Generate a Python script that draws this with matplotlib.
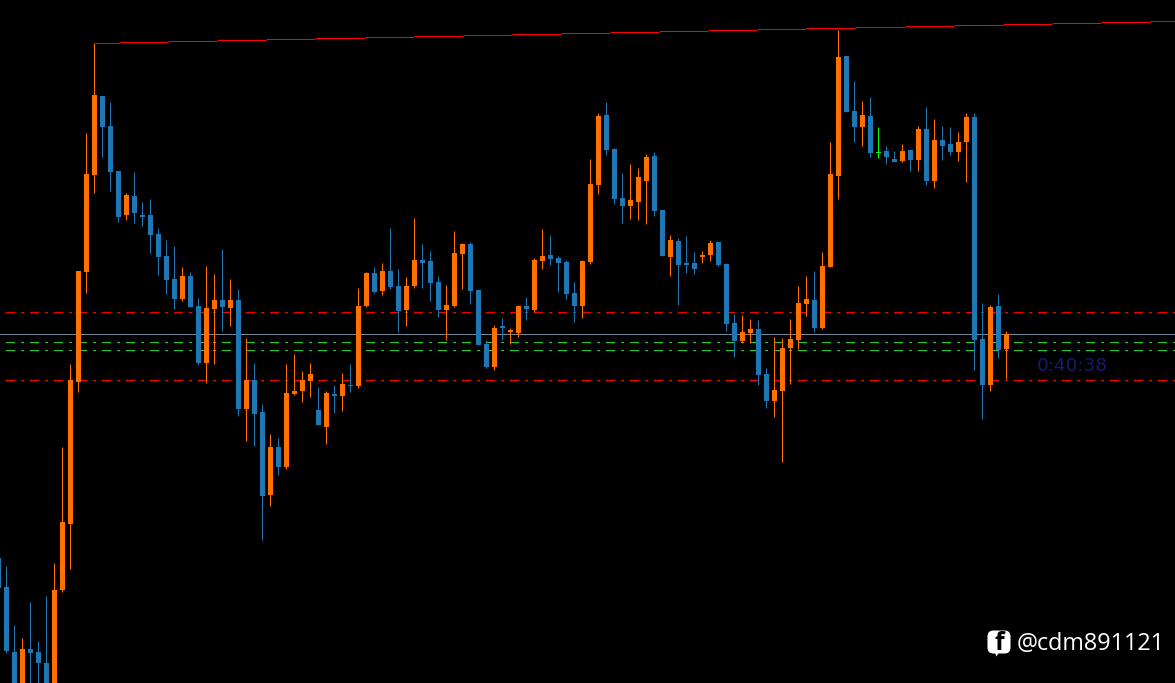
import matplotlib
matplotlib.use("Agg")
import matplotlib.pyplot as plt
import numpy as np
from matplotlib.patches import FancyBboxPatch, Polygon
from matplotlib.transforms import Affine2D

W, H = 1175, 683
first_index = -1
opens = [558,587,652,700,649,652,663,720,590,524,382,272,175,96,126,171,215,196,215,215,234,256,279,299,276,306,363,309,300,308,300,409,380,412,495,447,467,394,391,381,410,427,394,396,385,386,306,273,291,271,286,310,286,260,261,282,310,306,254,244,290,344,367,326,332,333,306,310,261,255,258,262,293,306,262,185,115,149,198,206,202,181,156,210,257,241,263,263,257,255,242,264,323,341,333,329,374,401,391,348,340,304,300,328,267,176,56,111,127,116,152.5,151,159,161,150,160,129,181,140,144,152,142,117,339,385,306,349]
closes = [588,651,700,649,653,663,700,590,522,380,271,174,95,127,172,217,195,213,217,235,257,280,299,276,307,363,308,300,307,300,409,380,414,496,447,467,393,391,380,374,425,393,396,384,386,306,273,292,271,287,311,286,260,263,283,310,305,253,244,291,345,367,328,328,330,306,309,260,256,259,263,294,306,261,184,116,150,199,206,200,177,157,211,256,240,265,265,269,255,243,265,324,341,332,329,375,401,390,348,339,303,299,328,266,174,57,112,127,115,153,152.5,157,162,151,160,129,181,140,146,152,142,117,340,385,307,350,334]
highs = [558,566,625,638,602,641,596,563,447,364,271,133,43,96,102,171,193,172,202,199,228,240,246,267,272,298,266,274,249,279,289,338,363,404,434,438,364,354,371,363,387,391,385,373,364,288,272,267,263,228,269,277,218,244,251,276,285,231,243,242,290,340,325,318,328,305,297,258,229,235,256,260,282,260,159,113,102,148,173,164,168,154,152,210,235,238,236,252,251,240,242,263,314,315,319,320,368,337,338,319,286,276,271,252,142,30,56,81,101,97,127,146,151,144,150,126,107,119,126,127,132,113,113,303,305,294,331]
lows = [590,653,700,700,700,700,700,720,592,569,392,293,193,157,191,222,220,223,226,253,275,294,309,301,307,365,383,364,331,326,416,441,446,540,506,475,469,395,402,397,425,444,413,411,392,388,307,293,295,289,332,326,288,288,301,317,340,307,289,304,345,368,370,340,344,337,320,312,269,265,292,299,322,318,264,194,155,204,223,219,220,224,216,256,276,305,273,274,263,261,266,331,357,343,343,385,408,417,462,384,349,316,332,329,267,199,112,142,146,157,158,164,162,162,171,171,185,188,160,155,161,182,370,419,391,358,379]

upper_red = 312
gray_level = 334
green_levels = [342, 350]
lower_red = 380
trend_index = [11, 146]
trend_values = [43.5, 21.5]
countdown = "0:40:38"
handle = "@cdm891121"

ORANGE, BLUE, GREEN = "#ff7000", "#1f77b4", "#00ff00"
fig = plt.figure(figsize=(W / 100, H / 100), dpi=100, facecolor="black")
ax = fig.add_axes([0, 0, 1, 1], facecolor="black")
ax.set_xlim((0 - 6.5) / 8, (W - 6.5) / 8)
ax.set_ylim(H, 0)
ax.axis("off")

px = 0.72
# dash pattern lengths are given in units of the line width (one pixel here)
dash = (23.5, (9, 6, 3, 6))
line_start = (5 - 6.5) / 8
line_end = (W - 6.5) / 8
for level, col in [(upper_red, "#ff0000"), (lower_red, "#ff0000"),
                   (green_levels[0], "#22d322"), (green_levels[1], "#22d322")]:
    line, = ax.plot([line_start, line_end], [level, level], color=col, lw=px,
                    linestyle=dash, dash_capstyle="butt", zorder=1)
    line.set_snap(True)
line, = ax.plot([ax.get_xlim()[0], line_end], [gray_level] * 2, color="#778899", lw=px, zorder=1)
line.set_snap(True)

# the sloped trend line, drawn stepwise so that it stays one crisp pixel thick
rows = np.arange(int(min(trend_values)), int(max(trend_values)) + 1)
row_start = np.interp(rows + 1, trend_values[::-1], trend_index[::-1])
row_end = np.interp(rows, trend_values[::-1], trend_index[::-1])
steps = ax.hlines(rows, row_start, row_end, color="#ff0000", lw=px, zorder=1)
steps.set_snap(True)

wick_shift = 0.25 / 8
for i, (o, c, h, l) in enumerate(zip(opens, closes, highs, lows)):
    k = first_index + i
    col = GREEN if o == c else (ORANGE if c < o else BLUE)
    wick = ax.vlines(k - wick_shift, h, l, color=col, lw=px, zorder=3)
    wick.set_snap(True)
    top, bottom = min(o, c), max(o, c)
    if bottom == top:
        top, bottom = top - .5, bottom + .5
    ax.bar(k, bottom - top, bottom=top, width=5 / 8, color=col, linewidth=0,
           antialiased=False, zorder=3)

px_tf = Affine2D().scale(1, -1).translate(0, H)
fig.text(1037 / W, 1 - 366 / H, countdown, color="#191970", fontsize=13.3,
         family="DejaVu Sans", va="center", ha="left")
fig.text(1017 / W, 1 - 643.5 / H, handle, color="white", fontsize=16.8,
         family="Open Sans", va="center", ha="left")
fig.add_artist(FancyBboxPatch((992, 635), 14, 14, boxstyle="round,pad=4.5,rounding_size=6",
                              facecolor="white", edgecolor="none", transform=px_tf))
fig.add_artist(Polygon([(994, 650), (1000, 650), (996.5, 656.5)], closed=True,
                       facecolor="white", edgecolor="none", transform=px_tf))
fig.text(999.5 / W, 1 - 643.5 / H, "f", color="black", fontsize=18, fontweight="bold",
         family="Open Sans", va="center", ha="center")
fig.savefig("out.png", dpi=100, facecolor="black")
